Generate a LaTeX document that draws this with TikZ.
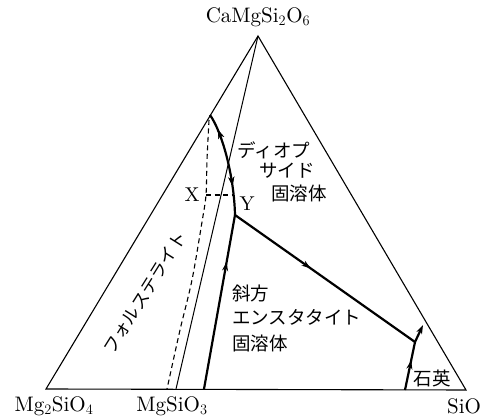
\documentclass[tikz,border=0pt]{standalone}
\usepackage{fontspec}
\newfontfamily\jp{Noto Sans CJK JP}
\newfontfamily\lmten{lmroman10-regular.otf}
\usetikzlibrary{decorations.markings,arrows.meta}
\begin{document}
\begin{tikzpicture}[x=1pt,y=-1pt,
  edge/.style={line width=1.1pt},
  thinline/.style={line width=1pt},
  bound/.style={line width=2.2pt},
  tie/.style={line width=1.1pt, dash pattern=on 5pt off 3.5pt},
  fwd/.style={postaction={decorate},decoration={markings,mark=at position #1 with {\arrow{Stealth[length=9pt,width=6pt]}}}},
  bwd/.style={postaction={decorate},decoration={markings,mark=at position #1 with {\arrowreversed{Stealth[length=9pt,width=6pt]}}}},
  lbl/.style={font=\lmten\fontsize{21}{21}\selectfont, inner sep=0pt},
  xylbl/.style={font=\lmten\fontsize{20}{20}\selectfont, inner sep=0pt},
  jlbl/.style={font=\jp\fontsize{18.5}{18.5}\selectfont, inner sep=0pt}
]
\useasboundingbox (0,0) rectangle (488,419);
% vertices
\coordinate (A) at (258,36);
\coordinate (L) at (46,389);
\coordinate (R) at (466,390);
\coordinate (M) at (176,389);
\coordinate (B3) at (204,389);
\coordinate (D0) at (210,115);
\coordinate (Yp) at (235,215);
\coordinate (E) at (415,342);
\coordinate (Q) at (405,390);
\coordinate (F) at (423,325);
\coordinate (Xp) at (206,195);
\coordinate (Yt) at (233,195);
% triangle
\draw[edge, line join=miter] (A) -- (L) -- (R) -- cycle;
% join
\draw[thinline] (A) -- (M);
% dashed forsterite boundary
\draw[tie] plot[smooth] coordinates {(209,120) (207,160) (206,195) (202,222) (192,280) (180,330) (167,389)};
% tie line X-Y
\draw[tie] (Xp) -- (Yt);
% boundary curves
\draw[bound, bwd=0.16, fwd=0.72] (D0) .. controls (222,132) and (234,175) .. (Yp);
\draw[bound, fwd=0.73] (B3) -- (Yp);
\draw[bound, fwd=0.42] (Yp) -- (E);
\draw[bound, fwd=0.62] (Q) -- (E);
\draw[bound, -{Stealth[length=9pt,width=6pt]}] (E) -- (F);
% labels
\node[lbl] (top) at (258,17) {CaMgSi$_2$O$_6$};
\node[lbl] (fo) at (54,406) {Mg$_2$SiO$_4$};
\node[lbl] (en) at (172,406) {MgSiO$_3$};
\node[lbl] (si) at (464,406) {SiO};
\node[xylbl] (X) at (192,195) {X};
\node[xylbl] (Y) at (247,204) {Y};
\node[jlbl] (d1) at (274,150) {ディオプ};
\node[jlbl] (d2) at (287,171) {サイド};
\node[jlbl] (d3) at (299,193) {固溶体};
\node[jlbl, anchor=west] (e1) at (232,293) {斜方};
\node[jlbl, anchor=west] (e2) at (232,317) {エンスタタイト};
\node[jlbl, anchor=west] (e3) at (232,343) {固溶体};
\node[jlbl] (q) at (432,378) {石英};
\node[jlbl, rotate=58, font=\jp\fontsize{17.5}{17.5}\selectfont] (fl) at (145,293) {フォルステライト};
\end{tikzpicture}
\end{document}
